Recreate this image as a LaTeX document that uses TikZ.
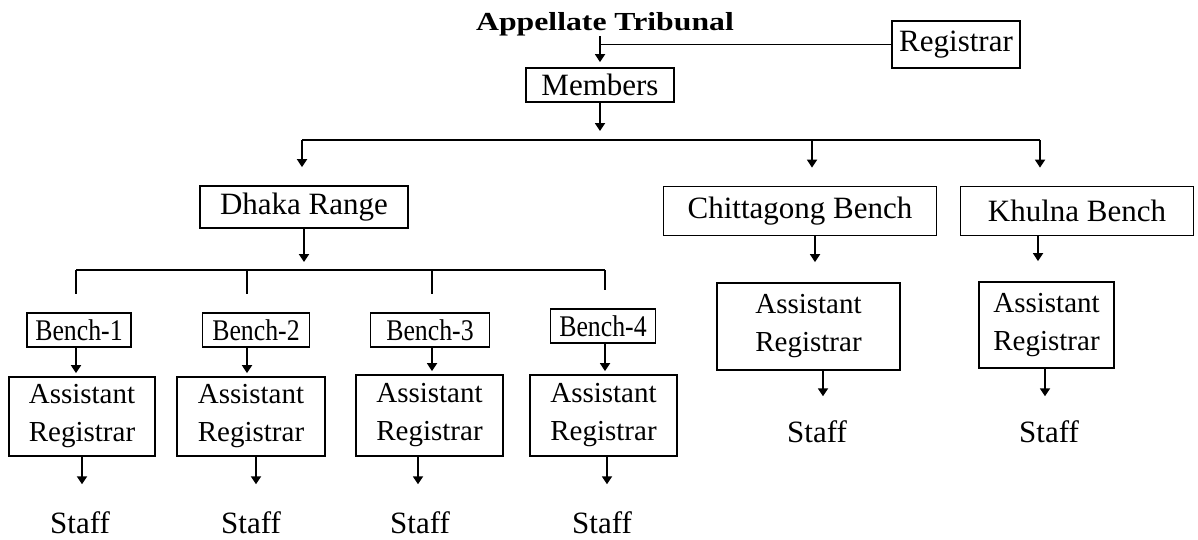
\documentclass[tikz,border=0pt]{standalone}
\usepackage{fontspec}
\setmainfont{Liberation Serif}
\newfontfamily\titlefont[FakeStretch=1.22]{Liberation Serif}
\newfontfamily\benchfont[FakeStretch=0.86]{Liberation Serif}
\usetikzlibrary{arrows.meta}
\begin{document}
\begin{tikzpicture}[x=1pt,y=-1pt,line width=1.8pt,
  box/.style={draw,inner sep=0pt,align=center},
  lbl/.style={font=\fontsize{31}{36}\selectfont},
  arlbl/.style={font=\fontsize{29}{38}\selectfont},
  bl/.style={font=\benchfont\fontsize{30}{36}\selectfont},
  stafflbl/.style={font=\fontsize{31}{36}\selectfont,inner sep=0pt,anchor=base},
  arr/.style={-{Triangle[length=8pt,width=10pt]}},
  link/.style={line width=1.8pt}]
\useasboundingbox (0,0) rectangle (1198,539);

% nodes
\node[font=\titlefont\bfseries\fontsize{26}{30}\selectfont,inner sep=0pt,anchor=base] (title) at (605,30) {Appellate Tribunal};
\node[box,lbl,minimum width=128pt,minimum height=47pt] (reg) at (956,44.5) {Registrar};
\node[box,lbl,minimum width=148pt,minimum height=34pt] (mem) at (600,85) {Members};
\node[box,lbl,minimum width=208pt,minimum height=42pt] (dhaka) at (304,207) {Dhaka Range};
\node[box,lbl,minimum width=273pt,minimum height=49pt] (chit) at (800,211) {Chittagong Bench};
\node[box,lbl,minimum width=233pt,minimum height=49pt] (khul) at (1077,211) {Khulna Bench};

\node[box,bl,minimum width=104pt,minimum height=34pt] (b1) at (79,330) {Bench-1};
\node[box,bl,minimum width=107pt,minimum height=34pt] (b2) at (256,330) {Bench-2};
\node[box,bl,minimum width=119pt,minimum height=34pt] (b3) at (430,330) {Bench-3};
\node[box,bl,minimum width=105pt,minimum height=34pt] (b4) at (603,326) {Bench-4};

\node[box,arlbl,minimum width=146pt,minimum height=79pt] (ar1) at (82,416.5) {Assistant\\Registrar};
\node[box,arlbl,minimum width=148pt,minimum height=79pt] (ar2) at (251,416.5) {Assistant\\Registrar};
\node[box,arlbl,minimum width=147pt,minimum height=81pt] (ar3) at (429.5,415.5) {Assistant\\Registrar};
\node[box,arlbl,minimum width=147pt,minimum height=81pt] (ar4) at (603.5,415.5) {Assistant\\Registrar};
\node[box,arlbl,minimum width=183pt,minimum height=87pt] (arc) at (808.5,326.5) {Assistant\\Registrar};
\node[box,arlbl,minimum width=135pt,minimum height=86pt] (ark) at (1046.5,325) {Assistant\\Registrar};

\node[stafflbl] (s1) at (80,533) {Staff};
\node[stafflbl] (s2) at (251,533) {Staff};
\node[stafflbl] (s3) at (420,533) {Staff};
\node[stafflbl] (s4) at (602,533) {Staff};
\node[stafflbl] (sc) at (817,442) {Staff};
\node[stafflbl] (sk) at (1049,442) {Staff};

% coordinates for buses and columns
\coordinate (bus1L) at (302,140);
\coordinate (bus1C) at (812,140);
\coordinate (bus1R) at (1040,140);
\coordinate (bus2L) at (76,270);
\coordinate (bus2B) at (247,270);
\coordinate (bus2C) at (432,270);
\coordinate (bus2R) at (605,270);
\coordinate (xc) at (815,0);
\coordinate (xk) at (1038,0);
\coordinate (xsc) at (823,0);
\coordinate (xsk) at (1045,0);
\coordinate (xs1) at (82,0);
\coordinate (xs2) at (256,0);
\coordinate (xs3) at (418,0);
\coordinate (xs4) at (607,0);

% top connectors
\draw[link,arr,shorten >=5pt] (title.south -| mem.north) -- (mem.north);
\draw[link] (reg.west) -- (reg.west -| mem.north);
\draw[link,arr,shorten >=9pt] (mem.south) -- (mem.south |- bus1L);
\draw[link] (bus1L) -- (bus1R);
\draw[link,arr,shorten >=18pt] (bus1L) -- (bus1L |- dhaka.north);
\draw[link,arr,shorten >=18pt] (bus1C) -- (bus1C |- chit.north);
\draw[link,arr,shorten >=18pt] (bus1R) -- (bus1R |- khul.north);

% right branches
\draw[link,arr,shorten >=20pt] (xc |- chit.south) -- (xc |- arc.north);
\draw[link,arr,shorten >=20pt] (xk |- khul.south) -- (xk |- ark.north);
\draw[link,arr,shorten >=23pt] (xsc |- arc.south) -- (xsc |- sc.north);
\draw[link,arr,shorten >=23pt] (xsk |- ark.south) -- (xsk |- sk.north);

% Dhaka branch
\draw[link,arr,shorten >=8pt] (dhaka.south) -- (dhaka.south |- bus2L);
\draw[link] (bus2L) -- (bus2R);
\draw[link,shorten >=18pt] (bus2L) -- (bus2L |- b1.north);
\draw[link,shorten >=18pt] (bus2B) -- (bus2B |- b2.north);
\draw[link,shorten >=18pt] (bus2C) -- (bus2C |- b3.north);
\draw[link,shorten >=18pt] (bus2R) -- (bus2R |- b4.north);
\draw[link,arr,shorten >=3pt] (bus2L |- b1.south) -- (bus2L |- ar1.north);
\draw[link,arr,shorten >=3pt] (bus2B |- b2.south) -- (bus2B |- ar2.north);
\draw[link,arr,shorten >=3pt] (bus2C |- b3.south) -- (bus2C |- ar3.north);
\draw[link,arr,shorten >=3pt] (bus2R |- b4.south) -- (bus2R |- ar4.north);
\draw[link,arr,shorten >=26pt] (xs1 |- ar1.south) -- (xs1 |- s1.north);
\draw[link,arr,shorten >=26pt] (xs2 |- ar2.south) -- (xs2 |- s2.north);
\draw[link,arr,shorten >=26pt] (xs3 |- ar3.south) -- (xs3 |- s3.north);
\draw[link,arr,shorten >=26pt] (xs4 |- ar4.south) -- (xs4 |- s4.north);
\end{tikzpicture}
\end{document}
